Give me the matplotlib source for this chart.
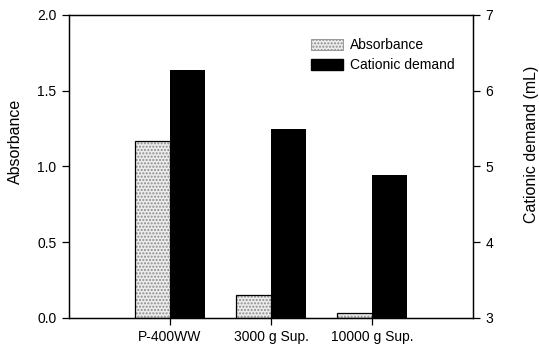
import matplotlib
matplotlib.use("Agg")
import matplotlib.pyplot as plt
import numpy as np
from matplotlib.patches import Patch

plt.rcParams['font.family'] = ['Liberation Sans', 'DejaVu Sans']

categories = ["P-400WW", "3000 g Sup.", "10000 g Sup."]
absorbance = [1.17, 0.155, 0.035]
cationic_demand = [6.28, 5.50, 4.89]

fig = plt.figure(figsize=(5.39, 3.47), dpi=100)
ax = fig.add_axes([0.128, 0.0836, 0.7496, 0.8732])
ax2 = ax.twinx()

x = np.arange(1, len(categories) + 1)
w = 0.345

# absorbance bars: stippled light grey
ax.bar(x - w / 2, absorbance, width=w, facecolor='#ececec', edgecolor='#8c8c8c',
       hatch='.....', linewidth=0, zorder=2)
ax.bar(x - w / 2, absorbance, width=w, facecolor='none', edgecolor='black',
       linewidth=0.9, zorder=3)
# cationic demand bars: black
ax2.bar(x + w / 2, cationic_demand, width=w, bottom=0, color='black', zorder=3)

ax.set_xlim(0, 4)
ax.set_ylim(0, 2.0)
ax2.set_ylim(3, 7)
ax.set_yticks([0.0, 0.5, 1.0, 1.5, 2.0])
ax.set_yticklabels([f"{v:.1f}" for v in [0.0, 0.5, 1.0, 1.5, 2.0]])
ax2.set_yticks([3, 4, 5, 6, 7])
ax.set_xticks(x)
ax.set_xticklabels(categories)

for a in (ax, ax2):
    a.tick_params(direction='out', length=5, width=0.9, labelsize=10, pad=4)
    for s in a.spines.values():
        s.set_linewidth(0.9)

ax.set_ylabel("Absorbance", fontsize=11.5)
ax2.set_ylabel("Cationic demand (mL)", fontsize=11.5)
ax.yaxis.set_label_coords(-0.113, 0.584)
ax2.yaxis.set_label_coords(1.125, 0.574)

h1 = Patch(facecolor='#ececec', edgecolor='#8c8c8c', hatch='.....', linewidth=0.6)
h2 = Patch(facecolor='black', edgecolor='black')
leg = ax.legend([h1, h2], ["Absorbance", "Cationic demand"], loc='upper left',
                bbox_to_anchor=(0.567, 0.965), frameon=False, fontsize=10,
                handlelength=2.3, handleheight=0.8, labelspacing=0.45, handletextpad=0.55)
leg.set_zorder(5)

fig.savefig("out.png", dpi=100)
